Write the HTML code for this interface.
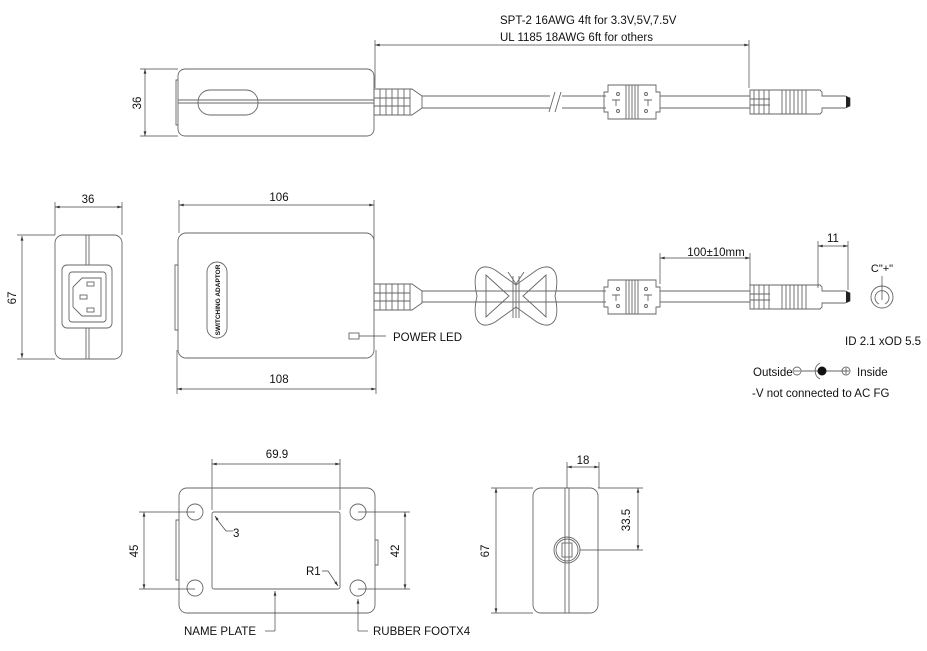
<!DOCTYPE html>
<html><head><meta charset="utf-8"><style>
html,body{margin:0;padding:0;background:#fff}
svg{display:block;font-size:11.5px}
text{font-family:"Liberation Sans",sans-serif;fill:#111}
.l{fill:none;stroke:#666;stroke-width:0.9}
.d{fill:none;stroke:#444;stroke-width:0.7}
</style></head><body>
<svg width="927" height="651" viewBox="0 0 927 651" xmlns="http://www.w3.org/2000/svg">
<defs>
<marker id="a" viewBox="0 0 10 6" refX="10" refY="3" markerWidth="7" markerHeight="4" orient="auto-start-reverse"><path d="M0,0L10,3L0,6z" fill="#333"/></marker>
<g id="sr">
 <path class="l" d="M0,-13 L38,-13 L48,-6 L48,6 L38,13 L0,13 Z"/>
 <path class="l" d="M6,-13V13M12,-13V13M18,-13V13M24,-13V13M30,-13V13M36,-13V13M0,-4H36M0,4H36"/>
</g>
<g id="fer">
 <path class="l" d="M0,-10 L4,-10 L4,-17 L52,-17 L52,-10 L56,-10 L56,10 L52,10 L52,17 L4,17 L4,10 L0,10 Z"/>
 <path class="l" d="M22,-17V17M25,-17V17M28,-17V17M31,-17V17M34,-17V17M8,-2H16M40,-2H48M12,-2V4M44,-2V4"/>
 <circle class="l" cx="14" cy="-8" r="1.5"/><circle class="l" cx="42" cy="-8" r="1.5"/>
 <circle class="l" cx="14" cy="9" r="1.5"/><circle class="l" cx="42" cy="9" r="1.5"/>
</g>
<g id="dc">
 <path class="l" d="M0,-12 L70,-12 L72,-10 L72,-6 L95,-6 L100,-4 L100,4 L95,6 L72,6 L72,10 L70,12 L0,12 Z"/>
 <path d="M96,-6 L100,-4 L100,4 L96,6 Z" fill="#222"/>
 <path class="l" d="M4,-12V12M9,-12V12M14,-12V12M19,-12V12M0,-3H20M0,3H20M32,-12V12M36,-12V12M40,-12V12M44,-12V12M48,-12V12M52,-12V12M56,-12V12"/>
</g>
</defs>

<!-- top view -->
<text x="500" y="24">SPT-2 16AWG 4ft for 3.3V,5V,7.5V</text>
<text x="500" y="41">UL 1185 18AWG 6ft for others</text>
<line class="d" x1="375" y1="45" x2="749" y2="45" marker-start="url(#a)" marker-end="url(#a)"/>
<line class="d" x1="375" y1="40" x2="375" y2="88"/>
<line class="d" x1="749" y1="40" x2="749" y2="88"/>
<rect class="l" x="178" y="69" width="196" height="67" rx="7"/>
<path class="l" d="M178,80 L176,80 L176,125 L178,125"/>
<line class="l" x1="178" y1="100" x2="374" y2="100"/><line class="l" x1="178" y1="103" x2="374" y2="103"/>
<rect class="l" x="198" y="90" width="60" height="25" rx="12" fill="#fff"/>
<line class="d" x1="145" y1="69" x2="145" y2="136" marker-start="url(#a)" marker-end="url(#a)"/>
<line class="d" x1="140" y1="69" x2="178" y2="69"/><line class="d" x1="140" y1="136" x2="178" y2="136"/>
<text transform="translate(141,103) rotate(-90)" text-anchor="middle">36</text>
<use href="#sr" x="374" y="102"/>
<path class="l" d="M422,96 H750 M422,108 H750"/>
<rect x="550" y="92" width="12" height="20" fill="#fff"/>
<path class="l" d="M549,112 L555,92 M555,112 L561,92"/>
<rect x="606" y="84" width="54" height="36" fill="#fff"/>
<use href="#fer" x="604" y="102"/>
<use href="#dc" x="750" y="102"/>

<!-- front view -->
<text x="88" y="203" text-anchor="middle">36</text>
<line class="d" x1="55" y1="207" x2="122" y2="207" marker-start="url(#a)" marker-end="url(#a)"/>
<line class="d" x1="55" y1="202" x2="55" y2="235"/><line class="d" x1="122" y1="202" x2="122" y2="235"/>
<rect class="l" x="55" y="235" width="67" height="124" rx="8"/>
<path class="l" d="M86,235V265M89,235V265M86,328V359M89,328V359"/>
<rect class="l" x="62" y="265" width="50" height="63" rx="5"/>
<rect class="l" x="69" y="272" width="37" height="50" rx="3"/>
<path class="l" d="M82,278 L101,278 L101,316 L82,316 L73,307 L73,287 Z"/>
<rect class="l" x="87" y="282" width="7" height="4"/><rect class="l" x="80" y="295" width="7" height="4"/><rect class="l" x="87" y="308" width="7" height="4"/>
<line class="d" x1="22" y1="236" x2="22" y2="358" marker-start="url(#a)" marker-end="url(#a)"/>
<line class="d" x1="17" y1="235" x2="55" y2="235"/><line class="d" x1="17" y1="359" x2="55" y2="359"/>
<text transform="translate(16,298) rotate(-90)" text-anchor="middle">67</text>

<!-- side view -->
<text x="279" y="201" text-anchor="middle">106</text>
<line class="d" x1="179" y1="205" x2="374" y2="205" marker-start="url(#a)" marker-end="url(#a)"/>
<line class="d" x1="179" y1="200" x2="179" y2="233"/><line class="d" x1="374" y1="200" x2="374" y2="290"/>
<rect class="l" x="178" y="233" width="196" height="125" rx="8"/>
<path class="l" d="M178,265 L175,265 L175,330 L178,330"/>
<rect class="l" x="207" y="262" width="20" height="76" rx="10"/>
<text transform="translate(220,300) rotate(-90)" text-anchor="middle" style="font-size:6.5px;font-weight:bold">SWITCHING ADAPTOR</text>
<rect class="l" x="349" y="333" width="10" height="6"/>
<line class="d" x1="359" y1="336" x2="386" y2="336"/>
<text x="393" y="341">POWER LED</text>
<text x="279" y="383" text-anchor="middle">108</text>
<line class="d" x1="177" y1="389" x2="376" y2="389" marker-start="url(#a)" marker-end="url(#a)"/>
<line class="d" x1="177" y1="350" x2="177" y2="394"/><line class="d" x1="376" y1="350" x2="376" y2="394"/>
<use href="#sr" x="374" y="297"/>
<path class="l" d="M422,291 H750 M422,302 H750"/>
<path class="l" d="M477,296 C470,265 485,262 498,272 L516,285 L534,272 C547,262 562,265 555,296 C562,327 547,330 534,320 L516,307 L498,320 C485,330 470,327 477,296 Z" fill="#fff"/>
<path class="l" d="M486,275 L509,296 L486,317 Z M546,275 L523,296 L546,317 Z"/>
<path class="l" d="M513,276 L513,318 M519,276 L519,318 M508,272 L516,284 L524,272 M516,284 V318"/>
<rect x="606" y="279" width="54" height="36" fill="#fff"/>
<use href="#fer" x="604" y="297"/>
<use href="#dc" x="750" y="297"/>
<text x="716" y="256" text-anchor="middle">100±10mm</text>
<line class="d" x1="660" y1="258" x2="750" y2="258" marker-start="url(#a)" marker-end="url(#a)"/>
<line class="d" x1="660" y1="253" x2="660" y2="284"/><line class="d" x1="750" y1="253" x2="750" y2="285"/>
<text x="833" y="242" text-anchor="middle">11</text>
<line class="d" x1="818" y1="246" x2="848" y2="246" marker-start="url(#a)" marker-end="url(#a)"/>
<line class="d" x1="818" y1="241" x2="818" y2="288"/><line class="d" x1="848" y1="241" x2="848" y2="290"/>
<text x="882" y="272" text-anchor="middle" style="font-size:11px">C"+"</text>
<circle class="l" cx="882" cy="297" r="11"/>
<path class="l" d="M879,304 A7,7 0 1 1 885,304"/>
<line class="d" x1="882" y1="276" x2="882" y2="300"/>
<text x="845" y="345">ID 2.1 xOD 5.5</text>
<text x="753" y="376">Outside</text>
<circle class="l" cx="797" cy="371" r="4"/><line class="l" x1="794" y1="371" x2="800" y2="371"/>
<line class="l" x1="801" y1="371" x2="846" y2="371"/>
<path class="l" d="M820,363 A9,9 0 0 0 820,379" fill="#fff"/>
<circle cx="822" cy="371" r="4.5" fill="#111"/>
<circle class="l" cx="846" cy="371" r="4" fill="#fff"/><path class="l" d="M843,371H849M846,368V374"/>
<text x="857" y="376">Inside</text>
<text x="752" y="397">-V not connected to AC FG</text>

<!-- bottom view -->
<text x="277" y="458" text-anchor="middle">69.9</text>
<line class="d" x1="212" y1="464" x2="340" y2="464" marker-start="url(#a)" marker-end="url(#a)"/>
<line class="d" x1="212" y1="459" x2="212" y2="510"/><line class="d" x1="340" y1="459" x2="340" y2="510"/>
<rect class="l" x="179" y="488" width="196" height="125" rx="8"/>
<path class="l" d="M179,520 L176,520 L176,580 L179,580 M375,540 L378,540 L378,565 L375,565"/>
<circle class="l" cx="195" cy="512" r="8"/><circle class="l" cx="358" cy="512" r="8"/>
<circle class="l" cx="195" cy="588" r="8"/><circle class="l" cx="358" cy="588" r="8"/>
<rect class="l" x="212" y="512" width="128" height="77" rx="2"/>
<line class="d" x1="144" y1="512" x2="144" y2="589" marker-start="url(#a)" marker-end="url(#a)"/>
<line class="d" x1="139" y1="512" x2="195" y2="512"/><line class="d" x1="139" y1="589" x2="195" y2="589"/>
<text transform="translate(138,551) rotate(-90)" text-anchor="middle">45</text>
<line class="d" x1="405" y1="512" x2="405" y2="589" marker-start="url(#a)" marker-end="url(#a)"/>
<line class="d" x1="358" y1="512" x2="410" y2="512"/><line class="d" x1="358" y1="589" x2="410" y2="589"/>
<text transform="translate(399,551) rotate(-90)" text-anchor="middle">42</text>
<path class="d" d="M226,531 L219,522 L215,516" marker-end="url(#a)"/>
<path class="d" d="M233,531 H226"/>
<text x="233" y="537">3</text>
<text x="306" y="575">R1</text>
<path class="d" d="M322,571 H328 L338,586" marker-end="url(#a)"/>
<path class="d" d="M275,631 V591" marker-end="url(#a)"/><line class="d" x1="265" y1="631" x2="275" y2="631"/>
<text x="184" y="635">NAME PLATE</text>
<path class="d" d="M358,631 V599" marker-end="url(#a)"/><line class="d" x1="358" y1="631" x2="368" y2="631"/>
<text x="373" y="635">RUBBER FOOTX4</text>

<!-- end view -->
<rect class="l" x="533" y="488" width="65" height="125" rx="8"/>
<path class="l" d="M565,488V613M569,488V613"/>
<circle class="l" cx="567" cy="550" r="13" fill="#fff"/>
<circle class="l" cx="567" cy="550" r="11"/>
<rect class="l" x="562" y="543" width="10" height="14" fill="#fff"/>
<line class="d" x1="496" y1="488" x2="496" y2="613" marker-start="url(#a)" marker-end="url(#a)"/>
<line class="d" x1="491" y1="488" x2="533" y2="488"/><line class="d" x1="491" y1="613" x2="533" y2="613"/>
<text transform="translate(489,551) rotate(-90)" text-anchor="middle">67</text>
<text x="583" y="464" text-anchor="middle">18</text>
<line class="d" x1="567" y1="467" x2="599" y2="467" marker-start="url(#a)" marker-end="url(#a)"/>
<line class="d" x1="567" y1="462" x2="567" y2="488"/><line class="d" x1="599" y1="462" x2="599" y2="488"/>
<line class="d" x1="638" y1="488" x2="638" y2="550" marker-start="url(#a)" marker-end="url(#a)"/>
<line class="d" x1="598" y1="488" x2="643" y2="488"/><line class="d" x1="580" y1="550" x2="643" y2="550"/>
<text transform="translate(630,520) rotate(-90)" text-anchor="middle">33.5</text>
</svg>
</body></html>
